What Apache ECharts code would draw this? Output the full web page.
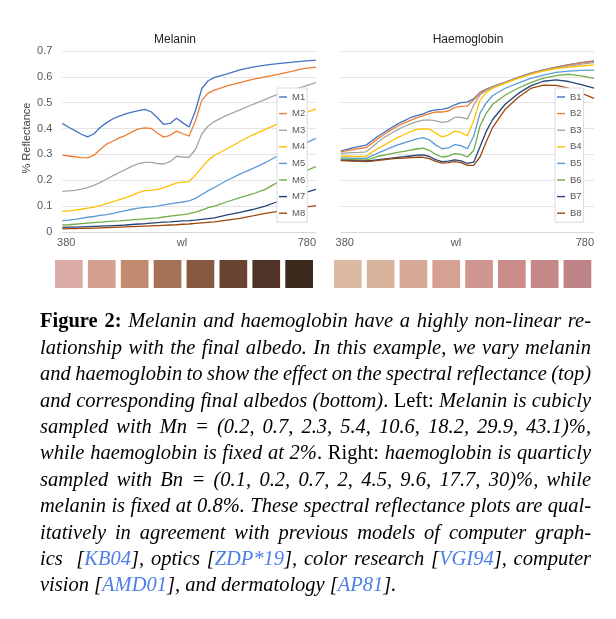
<!DOCTYPE html>
<html>
<head>
<meta charset="utf-8">
<script src="https://cdn.jsdelivr.net/npm/echarts@6/dist/echarts.min.js"></script>
<style>
  html, body { margin: 0; padding: 0; background: #fff; }
  #main { width: 616px; height: 619px; }
</style>
</head>
<body>
<div id="main"></div>
<script>
// wavelength samples (nm)
const wl = [380, 390, 400, 410, 420, 430, 440, 450, 460, 470, 480, 490, 500, 510, 520, 530, 540,
  550, 560, 570, 580, 590, 600, 610, 620, 640, 660, 680, 700, 720, 740, 760, 780];

// melanin sweep (left plot)
const M1 = [0.42, 0.405, 0.392, 0.378, 0.368, 0.38, 0.405, 0.423, 0.438, 0.448, 0.457, 0.464, 0.469, 0.474, 0.465, 0.442, 0.416,
  0.42, 0.44, 0.422, 0.406, 0.47, 0.555, 0.585, 0.598, 0.612, 0.627, 0.638, 0.645, 0.651, 0.656, 0.661, 0.665];
const M2 = [0.297, 0.294, 0.291, 0.288, 0.287, 0.297, 0.32, 0.34, 0.352, 0.364, 0.374, 0.387, 0.399, 0.403, 0.401, 0.382, 0.367,
  0.374, 0.39, 0.38, 0.371, 0.43, 0.51, 0.537, 0.549, 0.565, 0.578, 0.59, 0.6, 0.61, 0.62, 0.632, 0.638];
const M3 = [0.157, 0.159, 0.161, 0.166, 0.172, 0.18, 0.192, 0.205, 0.218, 0.23, 0.242, 0.255, 0.264, 0.269, 0.269, 0.265, 0.263,
  0.272, 0.293, 0.29, 0.289, 0.32, 0.38, 0.41, 0.428, 0.452, 0.472, 0.493, 0.513, 0.533, 0.548, 0.562, 0.578];
const M4 = [0.08, 0.082, 0.085, 0.088, 0.092, 0.096, 0.102, 0.11, 0.117, 0.125, 0.133, 0.142, 0.152, 0.16, 0.161, 0.165, 0.172,
  0.18, 0.19, 0.193, 0.195, 0.22, 0.25, 0.277, 0.297, 0.322, 0.35, 0.375, 0.397, 0.418, 0.438, 0.458, 0.476];
const M5 = [0.044, 0.046, 0.049, 0.053, 0.057, 0.06, 0.064, 0.067, 0.072, 0.078, 0.083, 0.088, 0.092, 0.095, 0.097, 0.1, 0.105,
  0.109, 0.113, 0.116, 0.12, 0.13, 0.145, 0.16, 0.172, 0.2, 0.224, 0.245, 0.268, 0.295, 0.316, 0.34, 0.362];
const M6 = [0.027, 0.028, 0.03, 0.032, 0.034, 0.036, 0.038, 0.04, 0.042, 0.043, 0.045, 0.047, 0.049, 0.051, 0.053, 0.055, 0.058,
  0.061, 0.064, 0.067, 0.071, 0.077, 0.085, 0.094, 0.1, 0.117, 0.133, 0.147, 0.165, 0.193, 0.213, 0.233, 0.253];
const M7 = [0.018, 0.019, 0.019, 0.02, 0.021, 0.022, 0.023, 0.024, 0.025, 0.026, 0.027, 0.029, 0.031, 0.032, 0.034, 0.036, 0.038,
  0.039, 0.041, 0.043, 0.044, 0.046, 0.049, 0.052, 0.055, 0.066, 0.076, 0.087, 0.1, 0.118, 0.134, 0.15, 0.165];
const M8 = [0.012, 0.013, 0.013, 0.014, 0.014, 0.015, 0.016, 0.017, 0.018, 0.019, 0.02, 0.021, 0.022, 0.023, 0.024, 0.025, 0.026,
  0.027, 0.028, 0.03, 0.031, 0.033, 0.035, 0.037, 0.039, 0.046, 0.053, 0.062, 0.072, 0.08, 0.088, 0.095, 0.102];

// haemoglobin sweep (right plot)
const B1 = [0.313, 0.32, 0.326, 0.331, 0.336, 0.354, 0.372, 0.388, 0.403, 0.418, 0.43, 0.442, 0.45, 0.457, 0.467, 0.472, 0.474,
  0.48, 0.492, 0.5, 0.502, 0.515, 0.54, 0.553, 0.562, 0.58, 0.598, 0.614, 0.627, 0.638, 0.647, 0.655, 0.662];
const B2 = [0.31, 0.315, 0.319, 0.323, 0.326, 0.344, 0.363, 0.38, 0.395, 0.41, 0.421, 0.432, 0.441, 0.45, 0.458, 0.464, 0.464,
  0.468, 0.482, 0.486, 0.487, 0.51, 0.537, 0.551, 0.561, 0.579, 0.597, 0.613, 0.626, 0.637, 0.646, 0.654, 0.66];
const B3 = [0.304, 0.306, 0.307, 0.308, 0.31, 0.33, 0.35, 0.368, 0.382, 0.396, 0.408, 0.418, 0.427, 0.433, 0.434, 0.43, 0.424,
  0.428, 0.443, 0.443, 0.437, 0.49, 0.53, 0.548, 0.559, 0.578, 0.596, 0.612, 0.624, 0.634, 0.642, 0.649, 0.655];
const B4 = [0.294, 0.293, 0.292, 0.292, 0.293, 0.31, 0.325, 0.338, 0.352, 0.365, 0.376, 0.388, 0.397, 0.399, 0.398, 0.383, 0.368,
  0.375, 0.39, 0.385, 0.372, 0.43, 0.51, 0.54, 0.556, 0.576, 0.594, 0.61, 0.622, 0.632, 0.638, 0.642, 0.646];
const B5 = [0.287, 0.286, 0.285, 0.285, 0.285, 0.295, 0.307, 0.317, 0.327, 0.337, 0.345, 0.352, 0.36, 0.365, 0.356, 0.337, 0.322,
  0.325, 0.338, 0.334, 0.322, 0.37, 0.46, 0.5, 0.528, 0.556, 0.576, 0.594, 0.607, 0.617, 0.622, 0.625, 0.626];
const B6 = [0.282, 0.281, 0.28, 0.279, 0.279, 0.285, 0.293, 0.298, 0.303, 0.308, 0.312, 0.317, 0.321, 0.324, 0.316, 0.3, 0.29,
  0.293, 0.303, 0.3, 0.29, 0.315, 0.41, 0.46, 0.494, 0.53, 0.556, 0.578, 0.595, 0.605, 0.61, 0.604, 0.594];
const B7 = [0.278, 0.277, 0.276, 0.275, 0.275, 0.277, 0.28, 0.283, 0.286, 0.289, 0.291, 0.294, 0.297, 0.298, 0.292, 0.28, 0.272,
  0.274, 0.279, 0.275, 0.265, 0.27, 0.33, 0.39, 0.435, 0.495, 0.535, 0.565, 0.583, 0.588, 0.582, 0.57, 0.556];
const B8 = [0.276, 0.275, 0.274, 0.273, 0.272, 0.274, 0.277, 0.28, 0.283, 0.285, 0.286, 0.288, 0.289, 0.289, 0.284, 0.273, 0.266,
  0.268, 0.272, 0.268, 0.258, 0.258, 0.29, 0.35, 0.405, 0.475, 0.52, 0.555, 0.568, 0.567, 0.556, 0.537, 0.517];

const melNames = ['M1', 'M2', 'M3', 'M4', 'M5', 'M6', 'M7', 'M8'];
const hbNames = ['B1', 'B2', 'B3', 'B4', 'B5', 'B6', 'B7', 'B8'];
const melSeries = [M1, M2, M3, M4, M5, M6, M7, M8];
const hbSeries = [B1, B2, B3, B4, B5, B6, B7, B8];

// final albedo swatches
const melSwatches = ['#dcaca6', '#d4a08f', '#c18b70', '#a47357', '#86583f', '#674330', '#4f3428', '#3d2a1f'];
const hbSwatches = ['#dcb9a0', '#d9b49d', '#d7aa98', '#d4a193', '#cf968f', '#ca8d8a', '#c58888', '#bf8485'];

const lineColors = ['#4472c4', '#ed7d31', '#a5a5a5', '#ffc000', '#5b9bd5', '#70ad47', '#264478', '#9e480e'];

// caption, {b|..} bold, {r|..} upright, {c|..} citation, rest italic
const caption = [
  '{b|Figure 2:} Melanin and haemoglobin have a highly non-linear re-',
  'lationship with the final albedo. In this example, we vary melanin',
  'and haemoglobin to show the effect on the spectral reflectance (top)',
  'and corresponding final albedos (bottom){r|. Left:} Melanin is cubicly',
  'sampled with Mn = (0.2, 0.7, 2.3, 5.4, 10.6, 18.2, 29.9, 43.1)%,',
  'while haemoglobin is fixed at 2%{r|. Right:} haemoglobin is quarticly',
  'sampled with Bn = (0.1, 0.2, 0.7, 2, 4.5, 9.6, 17.7, 30)%, while',
  'melanin is fixed at 0.8%. These spectral reflectance plots are qual-',
  'itatively in agreement with previous models of computer graph-',
  'ics  [{c|KB04}], optics [{c|ZDP*19}], color research [{c|VGI94}], computer',
  'vision [{c|AMD01}], and dermatology [{c|AP81}].'
];

const chart = echarts.init(document.getElementById('main'));

function mkSeries(name, vals, idx, axis) {
  return {
    name: name,
    type: 'line',
    xAxisIndex: axis,
    yAxisIndex: axis,
    data: wl.map(function (w, i) { return [w, vals[i]]; }),
    symbol: 'none',
    lineStyle: { width: 1.3, color: lineColors[idx] },
    itemStyle: { color: lineColors[idx] },
    emphasis: { disabled: true },
    animation: false
  };
}

function mkLegend(names, left) {
  return {
    data: names,
    orient: 'vertical',
    left: left,
    top: 88,
    icon: 'rect',
    itemWidth: 8,
    itemHeight: 1.4,
    itemGap: 6.6,
    padding: [4, 2, 4, 2],
    backgroundColor: '#fff',
    borderColor: '#d6dbe4',
    borderWidth: 1,
    borderRadius: 0,
    selectedMode: false,
    textStyle: { fontSize: 9.5, color: '#595959', lineHeight: 10, fontFamily: 'Liberation Sans' }
  };
}

function mkX(idx) {
  return {
    type: 'value', gridIndex: idx, min: 380, max: 780,
    axisLine: { show: true, lineStyle: { color: '#d9d9d9' } },
    axisTick: { show: false },
    splitLine: { show: false },
    axisLabel: {
      customValues: [380, 780], margin: 5, fontSize: 11, color: '#595959',
      fontFamily: 'Liberation Sans', padding: [0, 0, 0, 8], alignMaxLabel: 'right'
    }
  };
}

function mkY(idx, showLabels) {
  return {
    type: 'value', gridIndex: idx, min: 0, max: 0.7, interval: 0.1,
    axisLine: { show: false },
    axisTick: { show: false },
    splitLine: { lineStyle: { color: '#e4e4e4', width: 1 } },
    axisLabel: { show: showLabels, margin: 10, fontSize: 11, color: '#595959', fontFamily: 'Liberation Sans' }
  };
}

// ---- graphic: titles, axis names, swatches, caption
const graphics = [];
const sans = 'Liberation Sans';
graphics.push({ type: 'text', x: 175, y: 40, style: { text: 'Melanin', font: '12px "' + sans + '"', fill: '#222', align: 'center', verticalAlign: 'middle' } });
graphics.push({ type: 'text', x: 468, y: 40, style: { text: 'Haemoglobin', font: '12px "' + sans + '"', fill: '#222', align: 'center', verticalAlign: 'middle' } });
graphics.push({ type: 'text', x: 182, y: 243, style: { text: 'wl', font: '11px "' + sans + '"', fill: '#595959', align: 'center', verticalAlign: 'middle' } });
graphics.push({ type: 'text', x: 456, y: 243, style: { text: 'wl', font: '11px "' + sans + '"', fill: '#595959', align: 'center', verticalAlign: 'middle' } });
graphics.push({ type: 'text', x: 27, y: 138, rotation: Math.PI / 2, style: { text: '% Reflectance', font: '11px "' + sans + '"', fill: '#404040', align: 'center', verticalAlign: 'middle' } });

melSwatches.forEach(function (c, i) {
  graphics.push({ type: 'rect', shape: { x: 55 + i * 32.9, y: 260, width: 27.7, height: 28 }, style: { fill: c }, silent: true });
});
hbSwatches.forEach(function (c, i) {
  graphics.push({ type: 'rect', shape: { x: 334 + i * 32.8, y: 260, width: 27.7, height: 28 }, style: { fill: c }, silent: true });
});

// caption, justified word by word
const FS = 20.5;
const serif = 'Liberation Serif';
const fonts = {
  b: 'bold ' + FS + 'px "' + serif + '"',
  i: 'italic ' + FS + 'px "' + serif + '"',
  r: FS + 'px "' + serif + '"',
  c: 'italic ' + FS + 'px "' + serif + '"'
};
const rich = {
  b: { fontFamily: serif, fontSize: FS, fontWeight: 'bold', fill: '#000' },
  i: { fontFamily: serif, fontSize: FS, fontStyle: 'italic', fill: '#000' },
  r: { fontFamily: serif, fontSize: FS, fill: '#000' },
  c: { fontFamily: serif, fontSize: FS, fontStyle: 'italic', fill: '#4d7fe6' }
};
const ctx = document.createElement('canvas').getContext('2d');
function measure(p) { ctx.font = fonts[p.s]; return ctx.measureText(p.t).width; }

function parseLine(line) {
  const segs = [];
  const re = /\{(\w)\|([^}]*)\}|([^{]+)/g;
  let m;
  while ((m = re.exec(line))) segs.push(m[1] ? { s: m[1], t: m[2] } : { s: 'i', t: m[3] });
  const words = [];
  let cur = [];
  let prevSpace = false;
  segs.forEach(function (sg) {
    for (const ch of sg.t) {
      if (ch === ' ') {
        if (cur.length) { words.push(cur); cur = []; }
        else if (prevSpace) words.push([]);
        prevSpace = true;
      } else {
        prevSpace = false;
        const last = cur[cur.length - 1];
        if (last && last.s === sg.s) last.t += ch;
        else cur.push({ s: sg.s, t: ch });
      }
    }
  });
  if (cur.length) words.push(cur);
  return words;
}

const capLeft = 40, capRight = 591, capTop = 322, capStep = 26.4;
caption.forEach(function (line, li) {
  const words = parseLine(line);
  const widths = words.map(function (w) { return w.reduce(function (s, p) { return s + measure(p); }, 0); });
  const total = widths.reduce(function (a, b) { return a + b; }, 0);
  const last = li === caption.length - 1;
  ctx.font = fonts.i;
  const gap = last ? ctx.measureText(' ').width : (capRight - capLeft - total) / (words.length - 1);
  let x = capLeft;
  words.forEach(function (w, wi) {
    if (w.length) {
      graphics.push({
        type: 'text', x: x, y: capTop + li * capStep, silent: true,
        style: {
          text: w.map(function (p) { return '{' + p.s + '|' + p.t + '}'; }).join(''),
          rich: rich, font: fonts.i, align: 'left', verticalAlign: 'middle'
        }
      });
    }
    x += widths[wi] + gap;
  });
});

const option = {
  backgroundColor: '#fff',
  animation: false,
  grid: [
    { left: 62.3, right: 616 - 316, top: 51, bottom: 619 - 232 },
    { left: 340.7, right: 616 - 594, top: 51, bottom: 619 - 232 }
  ],
  xAxis: [mkX(0), mkX(1)],
  yAxis: [mkY(0, true), mkY(1, false)],
  legend: [mkLegend(melNames, 277), mkLegend(hbNames, 555)],
  series: melSeries.map(function (v, i) { return mkSeries(melNames[i], v, i, 0); })
    .concat(hbSeries.map(function (v, i) { return mkSeries(hbNames[i], v, i, 1); })),
  graphic: graphics
};

chart.setOption(option);
</script>
</body>
</html>
